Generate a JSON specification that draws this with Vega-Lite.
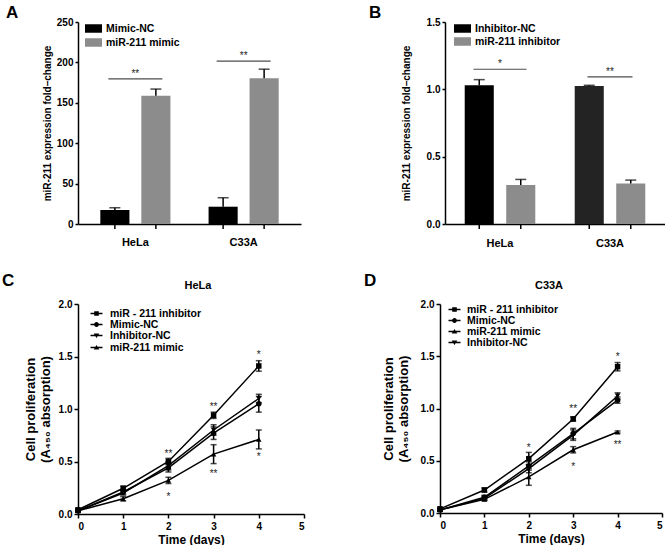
{
  "$schema": "https://vega.github.io/schema/vega-lite/v6.json",
  "padding": {"left": 2, "top": 3, "right": 0, "bottom": 0},
  "config": {
    "font": "Liberation Sans",
    "view": {"stroke": null},
    "axis": {"grid": false, "domainColor": "#000", "domainWidth": 1.5, "tickColor": "#000", "tickWidth": 1.5, "tickSize": 4, "labelColor": "#000", "labelFontWeight": "bold", "labelFontSize": 10, "titleColor": "#000", "titleFontWeight": "bold", "titleFontSize": 10, "labelPadding": 2},
    "legend": {"labelFontWeight": "bold", "labelFontSize": 10.5, "labelColor": "#000", "padding": 0},
    "title": {"fontSize": 17, "fontWeight": "bold", "color": "#000", "anchor": "start", "frame": "group"}
  },
  "resolve": {"scale": {"color": "independent", "shape": "independent", "xOffset": "independent"}},
  "spacing": 24,
  "vconcat": [
    {
      "spacing": 68,
      "resolve": {"scale": {"color": "independent", "shape": "independent", "xOffset": "independent"}},
      "hconcat": [
        {
          "title": {"text": "A", "dx": -72, "offset": -4.5},
          "width": 223, "height": 202,
          "data": {"values": [
            {"cell": "HeLa", "group": "Mimic-NC", "mean": 17.3, "hi": 20.1},
            {"cell": "HeLa", "group": "miR-211 mimic", "mean": 158.7, "hi": 167},
            {"cell": "C33A", "group": "Mimic-NC", "mean": 21.4, "hi": 32.5},
            {"cell": "C33A", "group": "miR-211 mimic", "mean": 180.5, "hi": 191.6}
          ]},
          "encoding": {"x": {"field": "cell", "type": "nominal", "sort": ["HeLa", "C33A"], "scale": {"paddingInner": 0, "paddingOuter": 0.03}, "axis": {"title": null, "ticks": false, "tickSize": 0, "labelAngle": 0, "labelPadding": 12, "labelFontSize": 11, "encode": {"labels": {"update": {"dx": {"signal": "datum.value === 'HeLa' ? -9 : -17"}}}}}}},
          "layer": [
            {"mark": {"type": "bar"}, "encoding": {
              "xOffset": {"field": "group", "type": "nominal", "sort": ["Mimic-NC", "miR-211 mimic"], "scale": {"paddingInner": 0.29, "paddingOuter": 0.465}},
              "y": {"field": "mean", "type": "quantitative", "scale": {"domain": [0, 250], "nice": false}, "axis": {"title": "miR-211 expression fold–change", "values": [0, 50, 100, 150, 200, 250], "tickSize": 3, "titlePadding": 4}},
              "color": {"field": "group", "type": "nominal", "scale": {"domain": ["Mimic-NC", "miR-211 mimic"], "range": ["#000000", "#8c8c8c"]}, "legend": {"title": null, "orient": "none", "legendX": 8, "legendY": -1, "symbolType": "M-1.2,-0.6H1.2V0.6H-1.2Z", "symbolSize": 200, "symbolStrokeWidth": 0, "labelOffset": 5, "rowPadding": 1}}
            }},
            {"mark": {"type": "rule", "color": "#000", "strokeWidth": 1.5}, "encoding": {
              "xOffset": {"field": "group", "type": "nominal", "sort": ["Mimic-NC", "miR-211 mimic"]},
              "y": {"field": "mean", "type": "quantitative"}, "y2": {"field": "hi"}}},
            {"mark": {"type": "tick", "orient": "horizontal", "color": "#000", "thickness": 1.5, "size": 11}, "encoding": {
              "xOffset": {"field": "group", "type": "nominal", "sort": ["Mimic-NC", "miR-211 mimic"]},
              "y": {"field": "hi", "type": "quantitative"}}},
            {"mark": {"type": "rule", "color": "#000", "strokeWidth": 1.5, "y2Offset": 5}, "encoding": {
              "xOffset": {"field": "group", "type": "nominal", "sort": ["Mimic-NC", "miR-211 mimic"]},
              "y": {"datum": 0}, "y2": {"datum": 0}}},
            {"data": {"values": [{"cell": "HeLa", "pos": 179.7, "label": "**"}, {"cell": "C33A", "pos": 201.5, "label": "**"}]},
             "layer": [
               {"mark": {"type": "tick", "orient": "horizontal", "color": "#000", "thickness": 1.2, "size": 54}, "encoding": {"y": {"field": "pos", "type": "quantitative"}}},
               {"mark": {"type": "text", "fontSize": 10, "baseline": "alphabetic", "dy": -2, "fill": "#222"}, "encoding": {"y": {"field": "pos", "type": "quantitative"}, "text": {"field": "label"}}}
             ]}
          ]
        },
        {
          "title": {"text": "B", "dx": -76, "offset": -4.5},
          "width": 220, "height": 202,
          "data": {"values": [
            {"cell": "HeLa", "group": "Inhibitor-NC", "mean": 1.03, "hi": 1.072},
            {"cell": "HeLa", "group": "miR-211 inhibitor", "mean": 0.289, "hi": 0.331},
            {"cell": "C33A", "group": "Inhibitor-NC", "mean": 1.025, "hi": 1.03},
            {"cell": "C33A", "group": "miR-211 inhibitor", "mean": 0.301, "hi": 0.326}
          ]},
          "encoding": {"x": {"field": "cell", "type": "nominal", "sort": ["HeLa", "C33A"], "scale": {"paddingInner": 0, "paddingOuter": 0}, "axis": {"title": null, "ticks": false, "tickSize": 0, "labelAngle": 0, "labelPadding": 13, "labelFontSize": 11}}},
          "layer": [
            {"mark": {"type": "bar"}, "encoding": {
              "xOffset": {"field": "group", "type": "nominal", "sort": ["Inhibitor-NC", "miR-211 inhibitor"], "scale": {"paddingInner": 0.3, "paddingOuter": 0.475}},
              "y": {"field": "mean", "type": "quantitative", "scale": {"domain": [0, 1.5], "nice": false}, "axis": {"title": "miR-211 expression fold–change", "values": [0, 0.5, 1, 1.5], "format": ".1f", "tickSize": 3, "titlePadding": 15}},
              "color": {"condition": {"test": "datum.cell === 'C33A' && datum.group === 'Inhibitor-NC'", "value": "#232323"}, "field": "group", "type": "nominal", "scale": {"domain": ["Inhibitor-NC", "miR-211 inhibitor"], "range": ["#000000", "#8c8c8c"]}, "legend": {"title": null, "orient": "none", "legendX": 10, "legendY": -1, "symbolType": "M-1.2,-0.6H1.2V0.6H-1.2Z", "symbolSize": 200, "symbolStrokeWidth": 0, "labelOffset": 5, "rowPadding": 0}}
            }},
            {"mark": {"type": "rule", "color": "#000", "strokeWidth": 1.5}, "encoding": {
              "xOffset": {"field": "group", "type": "nominal", "sort": ["Inhibitor-NC", "miR-211 inhibitor"]},
              "y": {"field": "mean", "type": "quantitative"}, "y2": {"field": "hi"}}},
            {"mark": {"type": "tick", "orient": "horizontal", "color": "#000", "thickness": 1.5, "size": 11}, "encoding": {
              "xOffset": {"field": "group", "type": "nominal", "sort": ["Inhibitor-NC", "miR-211 inhibitor"]},
              "y": {"field": "hi", "type": "quantitative"}}},
            {"mark": {"type": "rule", "color": "#000", "strokeWidth": 1.5, "y2Offset": 5}, "encoding": {
              "xOffset": {"field": "group", "type": "nominal", "sort": ["Inhibitor-NC", "miR-211 inhibitor"]},
              "y": {"datum": 0}, "y2": {"datum": 0}}},
            {"data": {"values": [{"cell": "HeLa", "pos": 1.149, "label": "*"}, {"cell": "C33A", "pos": 1.092, "label": "**"}]},
             "layer": [
               {"mark": {"type": "tick", "orient": "horizontal", "color": "#000", "thickness": 1.2}, "encoding": {"y": {"field": "pos", "type": "quantitative"}, "size": {"condition": {"test": "datum.label === '*'", "value": 53}, "value": 45}}},
               {"mark": {"type": "text", "fontSize": 10, "baseline": "alphabetic", "dy": -2, "fill": "#222"}, "encoding": {"y": {"field": "pos", "type": "quantitative"}, "text": {"field": "label"}}}
             ]}
          ]
        }
      ]
    },
    {
      "spacing": 59,
      "resolve": {"scale": {"color": "independent", "shape": "independent"}},
      "hconcat": [
        {
          "title": {"text": "C", "dx": -76, "dy": 10, "offset": 0},
          "resolve": {"scale": {"shape": "independent"}},
          "vconcat": [
            {
              "title": {"text": "HeLa", "anchor": "middle", "fontSize": 11, "dx": 7, "offset": 8},
              "width": 226, "height": 210,
              "data": {"values": [
                {"series": "miR - 211 inhibitor", "day": 0, "mean": 0.04, "lo": 0.03, "hi": 0.05},
                {"series": "miR - 211 inhibitor", "day": 1, "mean": 0.245, "lo": 0.225, "hi": 0.265},
                {"series": "miR - 211 inhibitor", "day": 2, "mean": 0.5, "lo": 0.47, "hi": 0.53},
                {"series": "miR - 211 inhibitor", "day": 3, "mean": 0.94, "lo": 0.91, "hi": 0.97},
                {"series": "miR - 211 inhibitor", "day": 4, "mean": 1.41, "lo": 1.36, "hi": 1.46},
                {"series": "Mimic-NC", "day": 0, "mean": 0.03, "lo": 0.02, "hi": 0.04},
                {"series": "Mimic-NC", "day": 1, "mean": 0.21, "lo": 0.19, "hi": 0.23},
                {"series": "Mimic-NC", "day": 2, "mean": 0.44, "lo": 0.4, "hi": 0.48},
                {"series": "Mimic-NC", "day": 3, "mean": 0.77, "lo": 0.71, "hi": 0.83},
                {"series": "Mimic-NC", "day": 4, "mean": 1.05, "lo": 0.97, "hi": 1.12},
                {"series": "Inhibitor-NC", "day": 0, "mean": 0.03, "lo": 0.02, "hi": 0.04},
                {"series": "Inhibitor-NC", "day": 1, "mean": 0.2, "lo": 0.18, "hi": 0.22},
                {"series": "Inhibitor-NC", "day": 2, "mean": 0.46, "lo": 0.42, "hi": 0.5},
                {"series": "Inhibitor-NC", "day": 3, "mean": 0.8, "lo": 0.75, "hi": 0.85},
                {"series": "Inhibitor-NC", "day": 4, "mean": 1.1, "lo": 1.06, "hi": 1.14},
                {"series": "miR-211 mimic", "day": 0, "mean": 0.03, "lo": 0.02, "hi": 0.04},
                {"series": "miR-211 mimic", "day": 1, "mean": 0.145, "lo": 0.125, "hi": 0.165},
                {"series": "miR-211 mimic", "day": 2, "mean": 0.32, "lo": 0.29, "hi": 0.35},
                {"series": "miR-211 mimic", "day": 3, "mean": 0.57, "lo": 0.48, "hi": 0.66},
                {"series": "miR-211 mimic", "day": 4, "mean": 0.71, "lo": 0.62, "hi": 0.8}
              ]},
              "encoding": {"x": {"field": "day", "type": "quantitative", "scale": {"domain": [0, 5], "nice": false}, "axis": {"title": "Time (days)", "values": [0, 1, 2, 3, 4, 5], "titleFontSize": 12, "labelPadding": 3, "titlePadding": 3}}},
              "resolve": {"scale": {"shape": "independent"}, "legend": {"shape": "independent"}},
              "layer": [
                {"mark": {"type": "line", "color": "#000", "strokeWidth": 1.5}, "encoding": {
                  "y": {"field": "mean", "type": "quantitative", "scale": {"domain": [0, 2], "nice": false}, "axis": {"title": ["Cell proliferation", "(A₄₅₀ absorption)"], "titleFontSize": 13, "titleLineHeight": 15, "values": [0, 0.5, 1, 1.5, 2], "format": ".1f", "titlePadding": 6}},
                  "detail": {"field": "series"}}},
                {"mark": {"type": "rule", "color": "#000", "strokeWidth": 1.5}, "encoding": {"y": {"field": "lo", "type": "quantitative"}, "y2": {"field": "hi"}}},
                {"mark": {"type": "tick", "orient": "horizontal", "color": "#000", "thickness": 1.5, "size": 6}, "encoding": {"y": {"field": "lo", "type": "quantitative"}}},
                {"mark": {"type": "tick", "orient": "horizontal", "color": "#000", "thickness": 1.5, "size": 6}, "encoding": {"y": {"field": "hi", "type": "quantitative"}}},
                {"mark": {"type": "point", "filled": true, "color": "#000", "size": 30, "opacity": 1}, "encoding": {
                  "y": {"field": "mean", "type": "quantitative"},
                  "shape": {"field": "series", "type": "nominal", "scale": {"domain": ["miR - 211 inhibitor", "Mimic-NC", "Inhibitor-NC", "miR-211 mimic"], "range": ["square", "circle", "triangle-down", "triangle-up"]}, "legend": null}
                }},
                {"mark": {"type": "point", "filled": true, "color": "#000", "size": 0, "opacity": 1}, "encoding": {
                  "y": {"field": "mean", "type": "quantitative"},
                  "shape": {"field": "series", "type": "nominal", "scale": {"domain": ["miR - 211 inhibitor", "Mimic-NC", "Inhibitor-NC", "miR-211 mimic"], "range": ["M-1.3,-0.16H1.3V0.16H-1.3ZM-0.5,-0.5H0.5V0.5H-0.5Z", "M-1.3,-0.16H1.3V0.16H-1.3ZM0.52,0A0.52,0.52,0,1,1,-0.52,0A0.52,0.52,0,1,1,0.52,0Z", "M-1.3,-0.16H1.3V0.16H-1.3ZM-0.6,-0.45H0.6L0,0.55Z", "M-1.3,-0.16H1.3V0.16H-1.3ZM-0.6,0.45L0,-0.55L0.6,0.45Z"]},
                    "legend": {"title": null, "orient": "none", "legendX": 13, "legendY": 4, "symbolSize": 85, "symbolOpacity": 1, "labelOffset": 8, "rowPadding": -3.5}}
                }},
                {"data": {"values": [
                  {"day": 2, "pos": 0.6, "label": "**"}, {"day": 2, "pos": 0.19, "label": "*"},
                  {"day": 3, "pos": 1.05, "label": "**"}, {"day": 3, "pos": 0.41, "label": "**"},
                  {"day": 4, "pos": 1.54, "label": "*"}, {"day": 4, "pos": 0.57, "label": "*"}
                 ]},
                 "mark": {"type": "text", "fontSize": 10, "baseline": "alphabetic", "dy": 6, "fill": "#222"},
                 "encoding": {"y": {"field": "pos", "type": "quantitative"}, "text": {"field": "label"}}}
              ]
            }
          ]
        },
        {
          "title": {"text": "D", "dx": -76, "dy": 10, "offset": 0},
          "resolve": {"scale": {"shape": "independent"}},
          "vconcat": [
            {
              "title": {"text": "C33A", "anchor": "middle", "fontSize": 11, "dx": -2, "offset": 8},
              "width": 222, "height": 209,
              "data": {"values": [
                {"series": "miR - 211 inhibitor", "day": 0, "mean": 0.04, "lo": 0.03, "hi": 0.05},
                {"series": "miR - 211 inhibitor", "day": 1, "mean": 0.22, "lo": 0.2, "hi": 0.24},
                {"series": "miR - 211 inhibitor", "day": 2, "mean": 0.52, "lo": 0.46, "hi": 0.58},
                {"series": "miR - 211 inhibitor", "day": 3, "mean": 0.9, "lo": 0.88, "hi": 0.92},
                {"series": "miR - 211 inhibitor", "day": 4, "mean": 1.4, "lo": 1.36, "hi": 1.44},
                {"series": "Mimic-NC", "day": 0, "mean": 0.03, "lo": 0.02, "hi": 0.04},
                {"series": "Mimic-NC", "day": 1, "mean": 0.15, "lo": 0.13, "hi": 0.17},
                {"series": "Mimic-NC", "day": 2, "mean": 0.45, "lo": 0.41, "hi": 0.49},
                {"series": "Mimic-NC", "day": 3, "mean": 0.76, "lo": 0.71, "hi": 0.81},
                {"series": "Mimic-NC", "day": 4, "mean": 1.08, "lo": 1.05, "hi": 1.11},
                {"series": "miR-211 mimic", "day": 0, "mean": 0.03, "lo": 0.02, "hi": 0.04},
                {"series": "miR-211 mimic", "day": 1, "mean": 0.13, "lo": 0.12, "hi": 0.14},
                {"series": "miR-211 mimic", "day": 2, "mean": 0.345, "lo": 0.265, "hi": 0.425},
                {"series": "miR-211 mimic", "day": 3, "mean": 0.605, "lo": 0.575, "hi": 0.635},
                {"series": "miR-211 mimic", "day": 4, "mean": 0.775, "lo": 0.765, "hi": 0.785},
                {"series": "Inhibitor-NC", "day": 0, "mean": 0.03, "lo": 0.02, "hi": 0.04},
                {"series": "Inhibitor-NC", "day": 1, "mean": 0.14, "lo": 0.12, "hi": 0.16},
                {"series": "Inhibitor-NC", "day": 2, "mean": 0.425, "lo": 0.385, "hi": 0.465},
                {"series": "Inhibitor-NC", "day": 3, "mean": 0.745, "lo": 0.695, "hi": 0.795},
                {"series": "Inhibitor-NC", "day": 4, "mean": 1.12, "lo": 1.09, "hi": 1.15}
              ]},
              "encoding": {"x": {"field": "day", "type": "quantitative", "scale": {"domain": [0, 5], "nice": false}, "axis": {"title": "Time (days)", "values": [0, 1, 2, 3, 4, 5], "titleFontSize": 12, "labelPadding": 3, "titlePadding": 3}}},
              "resolve": {"scale": {"shape": "independent"}, "legend": {"shape": "independent"}},
              "layer": [
                {"mark": {"type": "line", "color": "#000", "strokeWidth": 1.5}, "encoding": {
                  "y": {"field": "mean", "type": "quantitative", "scale": {"domain": [0, 2], "nice": false}, "axis": {"title": ["Cell proliferation", "(A₄₅₀ absorption)"], "titleFontSize": 13, "titleLineHeight": 15, "values": [0, 0.5, 1, 1.5, 2], "format": ".1f", "titlePadding": 10}},
                  "detail": {"field": "series"}}},
                {"mark": {"type": "rule", "color": "#000", "strokeWidth": 1.5}, "encoding": {"y": {"field": "lo", "type": "quantitative"}, "y2": {"field": "hi"}}},
                {"mark": {"type": "tick", "orient": "horizontal", "color": "#000", "thickness": 1.5, "size": 6}, "encoding": {"y": {"field": "lo", "type": "quantitative"}}},
                {"mark": {"type": "tick", "orient": "horizontal", "color": "#000", "thickness": 1.5, "size": 6}, "encoding": {"y": {"field": "hi", "type": "quantitative"}}},
                {"mark": {"type": "point", "filled": true, "color": "#000", "size": 30, "opacity": 1}, "encoding": {
                  "y": {"field": "mean", "type": "quantitative"},
                  "shape": {"field": "series", "type": "nominal", "scale": {"domain": ["miR - 211 inhibitor", "Mimic-NC", "miR-211 mimic", "Inhibitor-NC"], "range": ["square", "circle", "triangle-up", "triangle-down"]}, "legend": null}
                }},
                {"mark": {"type": "point", "filled": true, "color": "#000", "size": 0, "opacity": 1}, "encoding": {
                  "y": {"field": "mean", "type": "quantitative"},
                  "shape": {"field": "series", "type": "nominal", "scale": {"domain": ["miR - 211 inhibitor", "Mimic-NC", "miR-211 mimic", "Inhibitor-NC"], "range": ["M-1.3,-0.16H1.3V0.16H-1.3ZM-0.5,-0.5H0.5V0.5H-0.5Z", "M-1.3,-0.16H1.3V0.16H-1.3ZM0.52,0A0.52,0.52,0,1,1,-0.52,0A0.52,0.52,0,1,1,0.52,0Z", "M-1.3,-0.16H1.3V0.16H-1.3ZM-0.6,0.45L0,-0.55L0.6,0.45Z", "M-1.3,-0.16H1.3V0.16H-1.3ZM-0.6,-0.45H0.6L0,0.55Z"]},
                    "legend": {"title": null, "orient": "none", "legendX": 9, "legendY": 0, "symbolSize": 85, "symbolOpacity": 1, "labelOffset": 7, "rowPadding": -3.5}}
                }},
                {"data": {"values": [
                  {"day": 2, "pos": 0.65, "label": "*"},
                  {"day": 3, "pos": 1.02, "label": "**"}, {"day": 3, "pos": 0.47, "label": "*"},
                  {"day": 4, "pos": 1.52, "label": "*"}, {"day": 4, "pos": 0.68, "label": "**"}
                 ]},
                 "mark": {"type": "text", "fontSize": 10, "baseline": "alphabetic", "dy": 6, "fill": "#222"},
                 "encoding": {"y": {"field": "pos", "type": "quantitative"}, "text": {"field": "label"}}}
              ]
            }
          ]
        }
      ]
    }
  ]
}
